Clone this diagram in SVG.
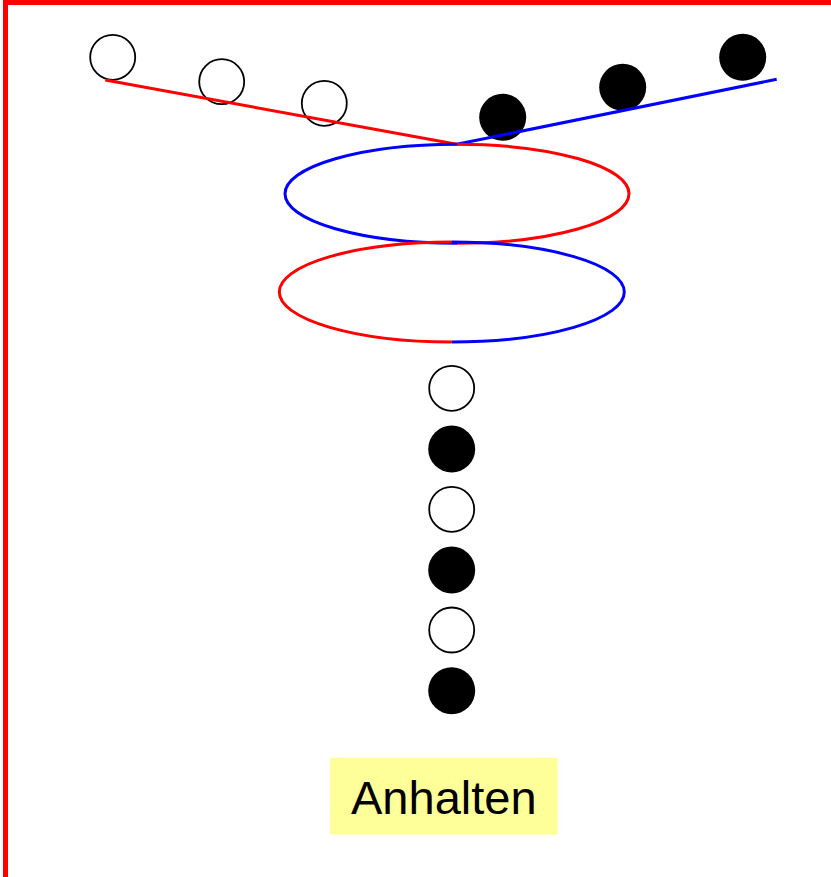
<svg xmlns="http://www.w3.org/2000/svg" width="831" height="877" viewBox="0 0 831 877">
<style>
.open{fill:#fff;stroke:#000;stroke-width:1.8}
.full{fill:#000}
.r{fill:none;stroke:#f00;stroke-width:3}
.b{fill:none;stroke:#00f;stroke-width:3}
.lbl{font-family:"Liberation Sans",Arial,sans-serif;font-size:47px;fill:#000}
</style>
<rect x="0" y="0" width="831" height="877" fill="#fff"/>
<rect id="frame" x="5.5" y="2.5" width="900" height="900" fill="none" stroke="#f00" stroke-width="5"/>
<g id="balls-top">
<circle class="open" cx="112.7" cy="57.3" r="22.5"/>
<circle class="open" cx="221.7" cy="81.7" r="22.5"/>
<circle class="open" cx="324.3" cy="103.3" r="22.5"/>
<circle class="full" cx="502.7" cy="117.3" r="23.5"/>
<circle class="full" cx="622.7" cy="87.3" r="23.5"/>
<circle class="full" cx="742.7" cy="57.3" r="23.5"/>
</g>
<g id="connectors">
<line class="r" x1="105.3" y1="80" x2="456.7" y2="144.3"/>
<line class="b" x1="456.7" y1="144.3" x2="776.7" y2="79.3"/>
</g>
<g id="ellipse1">
<path class="b" d="M457,144.3 A172,49.5 0 0 0 457,243.3"/>
<path class="r" d="M457,144.3 A172,49.5 0 0 1 457,243.3"/>
</g>
<g id="ellipse2">
<path class="r" d="M451.8,242 A172.5,50 0 0 0 451.8,342"/>
<path class="b" d="M451.8,242 A172.5,50 0 0 1 451.8,342"/>
</g>
<g id="balls-column">
<circle class="open" cx="451.7" cy="388.3" r="22.5"/>
<circle class="full" cx="451.7" cy="449" r="23.5"/>
<circle class="open" cx="451.7" cy="509.3" r="22.5"/>
<circle class="full" cx="451.7" cy="570" r="23.5"/>
<circle class="open" cx="451.7" cy="630" r="22.5"/>
<circle class="full" cx="451.7" cy="690.7" r="23.5"/>
</g>
<g id="label">
<rect x="330" y="757.7" width="227.7" height="77" fill="#ffff99"/>
<text class="lbl" x="443.8" y="814" text-anchor="middle">Anhalten</text>
</g>
</svg>
